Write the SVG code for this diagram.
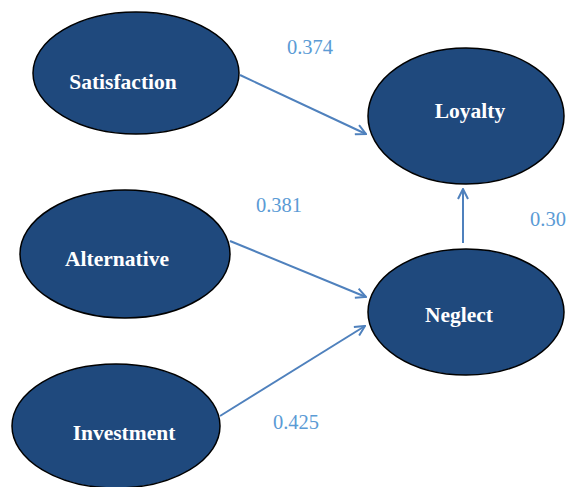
<svg xmlns="http://www.w3.org/2000/svg" width="570" height="487" viewBox="0 0 570 487">
<style>
.node{fill:#1f497d;stroke:#000;stroke-width:1.5}
.lbl{font-family:"Liberation Serif",serif;font-weight:bold;font-size:21.5px;fill:#fff;text-anchor:middle}
.coef{font-family:"Liberation Serif",serif;font-size:20.5px;fill:#5b9bd5;text-anchor:middle}
.edge{stroke:#4f81bd;stroke-width:2;fill:none;marker-end:url(#ah)}
</style>
<defs>
<marker id="ah" viewBox="0 0 12 12" refX="11" refY="6" markerWidth="12" markerHeight="12" markerUnits="userSpaceOnUse" orient="auto">
<path d="M1,1 L11,6 L1,11" fill="none" stroke="#4f81bd" stroke-width="2"/>
</marker>
</defs>
<rect width="570" height="487" fill="#fff"/>
<g id="connectors">
<line class="edge" x1="240" y1="75" x2="366" y2="134"/>
<line class="edge" x1="230" y1="241" x2="366" y2="297"/>
<line class="edge" x1="220" y1="416" x2="365" y2="326"/>
<line class="edge" x1="463" y1="243" x2="463" y2="189"/>
<text class="coef" x="310" y="54">0.374</text>
<text class="coef" x="279" y="212">0.381</text>
<text class="coef" x="530" y="226" style="text-anchor:start">0.30</text>
<text class="coef" x="296" y="429">0.425</text>
</g>
<g id="satisfaction">
<ellipse class="node" cx="136" cy="73" rx="103" ry="61"/>
<text class="lbl" x="123" y="89">Satisfaction</text>
</g>
<g id="loyalty">
<ellipse class="node" cx="466" cy="116" rx="98" ry="68"/>
<text class="lbl" x="470" y="118">Loyalty</text>
</g>
<g id="alternative">
<ellipse class="node" cx="125" cy="254" rx="105" ry="64"/>
<text class="lbl" x="117" y="266">Alternative</text>
</g>
<g id="neglect">
<ellipse class="node" cx="466" cy="312" rx="98" ry="63"/>
<text class="lbl" x="459" y="322">Neglect</text>
</g>
<g id="investment">
<ellipse class="node" cx="116" cy="426" rx="104" ry="62"/>
<text class="lbl" x="124" y="440">Investment</text>
</g>
</svg>
